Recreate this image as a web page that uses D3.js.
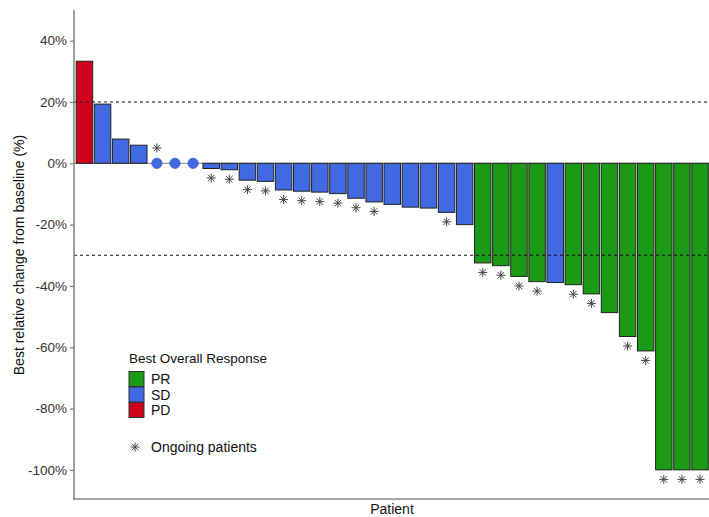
<!DOCTYPE html>
<html><head><meta charset="utf-8">
<script src="https://cdn.jsdelivr.net/npm/d3@7"></script>
<style>body{margin:0;background:#fff}svg{display:block;font-family:"Liberation Sans",Arial,sans-serif}</style>
</head><body><svg id="c" width="709" height="517"></svg>
<script>
const values = [33.3, 19.3, 7.9, 5.9, 0, 0, 0, -1.7, -2.1, -5.5, -5.9, -8.7, -9.1, -9.4, -9.9, -11.4, -12.6, -13.4, -14.3, -14.6, -16.0, -20.0, -32.5, -33.4, -36.9, -38.6, -38.9, -39.6, -42.6, -48.7, -56.5, -61.2, -100, -100, -100];
const response = ["PD","SD","SD","SD","SD","SD","SD","SD","SD","SD","SD","SD","SD","SD","SD","SD","SD","SD","SD","SD","SD","SD","PR","PR","PR","PR","SD","PR","PR","PR","PR","PR","PR","PR","PR"];
const ongoing = [0,0,0,0,1,0,0,1,1,1,1,1,1,1,1,1,1,0,0,0,1,0,1,1,1,1,0,1,1,0,1,1,1,1,1];
const yTicks = [40, 20, 0, -20, -40, -60, -80, -100];
const refLines = [20, -30];
const legendCats = ["PR", "SD", "PD"];
const colors = {PR: "#1a9a16", SD: "#4169e1", PD: "#d0021b"};

const data = values.map((v, i) => ({id: i, v, r: response[i], on: ongoing[i]}));
const svg = d3.select("#c");
const L = 74, R = 709, T = 10, B = 499;
const x = d3.scaleBand().domain(data.map(d => d.id)).range([75.5, 709]).paddingInner(0.09).paddingOuter(0.04);
const y = d3.scaleLinear().domain([-109.5, 50]).range([B, T]);

// zero line
svg.append("line").attr("x1", L).attr("x2", R).attr("y1", y(0)).attr("y2", y(0)).attr("stroke", "#9a9a9a").attr("stroke-width", 1.2);

// bars
svg.append("g").selectAll("rect").data(data.filter(d => d.v !== 0)).join("rect")
  .attr("x", d => x(d.id)).attr("width", x.bandwidth())
  .attr("y", d => y(Math.max(0, d.v))).attr("height", d => Math.abs(y(d.v) - y(0)))
  .attr("fill", d => colors[d.r]).attr("stroke", "#222").attr("stroke-width", 1);

// zero points
svg.append("g").selectAll("circle").data(data.filter(d => d.v === 0)).join("circle")
  .attr("cx", d => x(d.id) + x.bandwidth() / 2).attr("cy", y(0)).attr("r", 5.2)
  .attr("fill", colors.SD).attr("stroke", "#3355bb").attr("stroke-width", 0.6);

// reference lines
svg.append("g").selectAll("line").data(refLines).join("line")
  .attr("x1", L).attr("x2", R).attr("y1", d => y(d)).attr("y2", d => y(d))
  .attr("stroke", "#111").attr("stroke-width", 1).attr("stroke-dasharray", "3,3");

// asterisk shape
function star(g, cx, cy, r) {
  const a = r * Math.SQRT1_2;
  g.append("path").attr("d",
    `M${cx - r},${cy}L${cx + r},${cy}M${cx},${cy - r}L${cx},${cy + r}` +
    `M${cx - a},${cy - a}L${cx + a},${cy + a}M${cx - a},${cy + a}L${cx + a},${cy - a}`)
    .attr("stroke", "#444").attr("stroke-width", 1).attr("fill", "none");
}
const sg = svg.append("g");
data.filter(d => d.on).forEach(d => {
  const yy = d.v === 0 ? y(5) : y(d.v - 3.1);
  star(sg, x(d.id) + x.bandwidth() / 2, yy, 4.5);
});

// axes
const ya = svg.append("g").attr("transform", `translate(${L},0)`)
  .call(d3.axisLeft(y).tickValues(yTicks).tickFormat(d => d + "%").tickSize(4).tickPadding(3));
ya.select(".domain").remove();
ya.selectAll(".tick line").attr("stroke", "#666");
ya.selectAll(".tick text").attr("fill", "#333").attr("font-size", 13.5).attr("font-family", "Liberation Sans, Arial, sans-serif");
svg.append("line").attr("x1", L).attr("x2", L).attr("y1", T).attr("y2", B + 1).attr("stroke", "#888").attr("stroke-width", 1.6);
svg.append("line").attr("x1", L).attr("x2", R).attr("y1", B).attr("y2", B).attr("stroke", "#888").attr("stroke-width", 1.6);

svg.append("text").attr("x", 392).attr("y", 514).attr("text-anchor", "middle").attr("font-size", 14).attr("fill", "#111").text("Patient");
svg.append("text").attr("transform", `translate(24,${255}) rotate(-90)`).attr("text-anchor", "middle").attr("font-size", 14).attr("fill", "#111")
  .text("Best relative change from baseline (%)");

// legend
const lg = svg.append("g");
lg.append("text").attr("x", 129).attr("y", 363).attr("font-size", 13.5).attr("fill", "#111").text("Best Overall Response");
legendCats.forEach((c, i) => {
  lg.append("rect").attr("x", 129).attr("y", 371.5 + i * 15.5).attr("width", 15).attr("height", 15)
    .attr("fill", colors[c]).attr("stroke", "#333").attr("stroke-width", 1);
  lg.append("text").attr("x", 151).attr("y", 379 + i * 15.5).attr("dy", "0.36em").attr("font-size", 14).attr("fill", "#111").text(c);
});
star(lg, 135, 447, 4.5);
lg.append("text").attr("x", 151).attr("y", 447).attr("dy", "0.36em").attr("font-size", 14).attr("fill", "#111").text("Ongoing patients");
</script></body></html>
